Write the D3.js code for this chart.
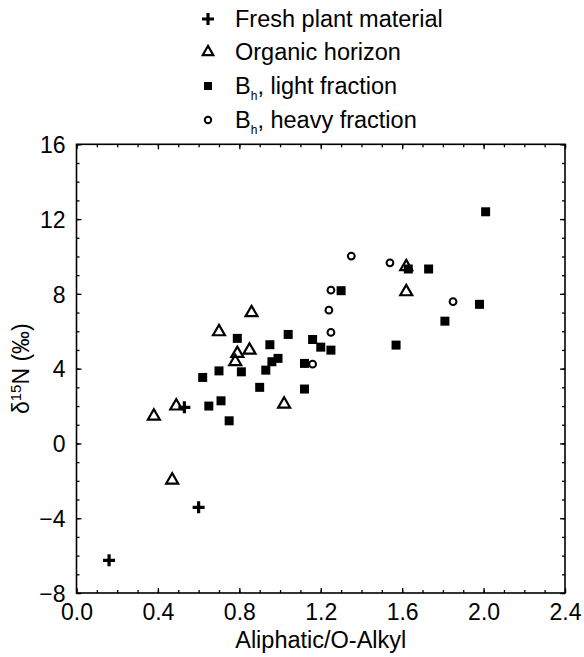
<!DOCTYPE html>
<html>
<head>
<meta charset="utf-8">
<script src="https://cdn.jsdelivr.net/npm/d3@7"></script>
<style>
  body { margin: 0; background: #fff; }
  svg { display: block; }
  text { font-family: "Liberation Sans", Arial, Helvetica, sans-serif; fill: #000; }
  .axis path, .axis line { stroke: #000; }
</style>
</head>
<body>
<div id="chart"><svg></svg></div>
<script>
// values: [Aliphatic/O-Alkyl, d15N]
var freshPlant = [[0.16, -6.25], [0.60, -3.42], [0.53, 1.93]];
var organicHorizon = [
  [0.38, 1.46], [0.49, 2.0], [0.47, -1.96], [1.02, 2.1], [0.86, 6.99],
  [0.70, 5.97], [0.85, 4.99], [0.79, 4.81], [0.78, 4.37], [1.62, 8.11],
  [1.62, 9.45]
];
var lightFraction = [
  [0.79, 5.62], [0.70, 3.88], [0.62, 3.53], [0.81, 3.83], [0.65, 2.0],
  [0.71, 2.28], [0.75, 1.21], [0.90, 3.0], [0.95, 5.28], [0.93, 3.92],
  [0.96, 4.37], [0.99, 4.55], [1.04, 5.83], [1.12, 4.28], [1.12, 2.91],
  [1.16, 5.56], [1.20, 5.15], [1.25, 4.99], [1.30, 8.17], [1.63, 9.33],
  [1.73, 9.33], [2.01, 12.39], [1.98, 7.44], [1.81, 6.54], [1.57, 5.26]
];
var heavyFraction = [
  [1.35, 10.02], [1.54, 9.66], [1.25, 8.2], [1.24, 7.13], [1.25, 5.94],
  [1.85, 7.58], [1.16, 4.24]
];
var xTicks = [0, 0.4, 0.8, 1.2, 1.6, 2.0, 2.4];
var yTicks = [-8, -4, 0, 4, 8, 12, 16];
var legendLabels = ["Fresh plant material", "Organic horizon", "light fraction", "heavy fraction"];

var W = 584, H = 657;
var margin = { left: 76.5, right: 565, top: 144.3, bottom: 593 };

var svg = d3.select("#chart svg").attr("width", W).attr("height", H);

var x = d3.scaleLinear().domain([0, 2.4]).range([margin.left, margin.right]);
var y = d3.scaleLinear().domain([-8, 16]).range([margin.bottom, margin.top]);

var xMinor = d3.range(0, 24.01, 1).map(function(d) { return d / 10; });
var yMinor = d3.range(-8, 16.01, 1);
var fmt = function(d) { return d.toFixed(1); };
var fmtY = function(d) { return d < 0 ? "\u2212" + Math.abs(d) : String(d); };

function axisGroup(axis, tx, ty) {
  var g = svg.append("g").attr("class", "axis")
    .attr("transform", "translate(" + tx + "," + ty + ")")
    .call(axis);
  g.select(".domain").remove();
  g.selectAll("line").attr("stroke-width", 1.3);
  return g;
}

// minor ticks, all four sides, pointing in
axisGroup(d3.axisBottom(x).tickValues(xMinor).tickSize(-3).tickFormat(""), 0, margin.bottom);
axisGroup(d3.axisTop(x).tickValues(xMinor).tickSize(-3).tickFormat(""), 0, margin.top);
axisGroup(d3.axisLeft(y).tickValues(yMinor).tickSize(-3).tickFormat(""), margin.left, 0);
axisGroup(d3.axisRight(y).tickValues(yMinor).tickSize(-3).tickFormat(""), margin.right, 0);

// major ticks with labels
var gx = axisGroup(d3.axisBottom(x).tickValues(xTicks).tickSize(-5).tickPadding(10).tickFormat(fmt), 0, margin.bottom);
gx.selectAll("text").attr("font-size", 23).attr("dy", "0.72em");
var gy = axisGroup(d3.axisLeft(y).tickValues(yTicks).tickSize(-5).tickPadding(11).tickFormat(fmtY), margin.left, 0);
gy.selectAll("text").attr("font-size", 23).attr("dy", "0.36em");
axisGroup(d3.axisTop(x).tickValues(xTicks).tickSize(-5).tickFormat(""), 0, margin.top);
axisGroup(d3.axisRight(y).tickValues(yTicks).tickSize(-5).tickFormat(""), margin.right, 0);

// frame
svg.append("rect")
  .attr("x", margin.left).attr("y", margin.top)
  .attr("width", margin.right - margin.left).attr("height", margin.bottom - margin.top)
  .attr("fill", "none").attr("stroke", "#000").attr("stroke-width", 1.6);

// axis titles
svg.append("text")
  .attr("x", (margin.left + margin.right) / 2).attr("y", 648)
  .attr("text-anchor", "middle").attr("font-size", 23.5)
  .text("Aliphatic/O-Alkyl");

var yt = svg.append("text")
  .attr("transform", "translate(29," + ((margin.top + margin.bottom) / 2) + ") rotate(-90)")
  .attr("text-anchor", "middle").attr("font-size", 23);
yt.append("tspan").text("\u03b4");
yt.append("tspan").attr("font-size", 15).attr("dy", -8).text("15");
yt.append("tspan").attr("dy", 8).text("N (\u2030)");

var crossPath = "M-6,0H6M0,-6V6";

function drawSquares(g, data, size) {
  g.selectAll(null).data(data).enter().append("path")
    .attr("d", d3.symbol().type(d3.symbolSquare).size(size))
    .attr("transform", function(d) { return "translate(" + d[0] + "," + d[1] + ")"; })
    .attr("fill", "#000");
}
function drawTriangles(g, data, size) {
  g.selectAll(null).data(data).enter().append("path")
    .attr("d", d3.symbol().type(d3.symbolTriangle).size(size))
    .attr("transform", function(d) { return "translate(" + d[0] + "," + d[1] + ")"; })
    .attr("fill", "none").attr("stroke", "#000").attr("stroke-width", 2.2)
    .attr("stroke-linejoin", "miter");
}
function drawCircles(g, data, r) {
  g.selectAll(null).data(data).enter().append("circle")
    .attr("cx", function(d) { return d[0]; })
    .attr("cy", function(d) { return d[1]; })
    .attr("r", r)
    .attr("fill", "#fff").attr("stroke", "#000").attr("stroke-width", 2);
}
function drawCrosses(g, data) {
  g.selectAll(null).data(data).enter().append("path")
    .attr("d", crossPath)
    .attr("transform", function(d) { return "translate(" + d[0] + "," + d[1] + ")"; })
    .attr("stroke", "#000").attr("stroke-width", 3.2).attr("fill", "none");
}

var px = function(arr) { return arr.map(function(d) { return [x(d[0]), y(d[1])]; }); };

var marks = svg.append("g");
drawSquares(marks, px(lightFraction), 81);
drawTriangles(marks, px(organicHorizon), 62);
drawCircles(marks, px(heavyFraction), 3.4);
drawCrosses(marks, px(freshPlant));

// legend
var lx = 208, tx = 235, ly = [19, 52, 86, 120];
var lg = svg.append("g");
drawCrosses(lg, [[lx, ly[0]]]);
drawTriangles(lg, [[lx, ly[1]]], 48);
drawSquares(lg, [[lx, ly[2]]], 64);
drawCircles(lg, [[lx, ly[3]]], 3.2);

lg.selectAll(null).data(legendLabels).enter().append("text")
  .attr("x", tx).attr("y", function(d, i) { return ly[i]; })
  .attr("dy", "0.36em").attr("font-size", 23.5)
  .each(function(d, i) {
    var t = d3.select(this);
    if (i < 2) { t.text(d); return; }
    t.append("tspan").text("B");
    t.append("tspan").attr("font-size", 12).attr("dy", 6).text("h");
    t.append("tspan").attr("dy", -6).text(", " + d);
  });
</script>
</body>
</html>
